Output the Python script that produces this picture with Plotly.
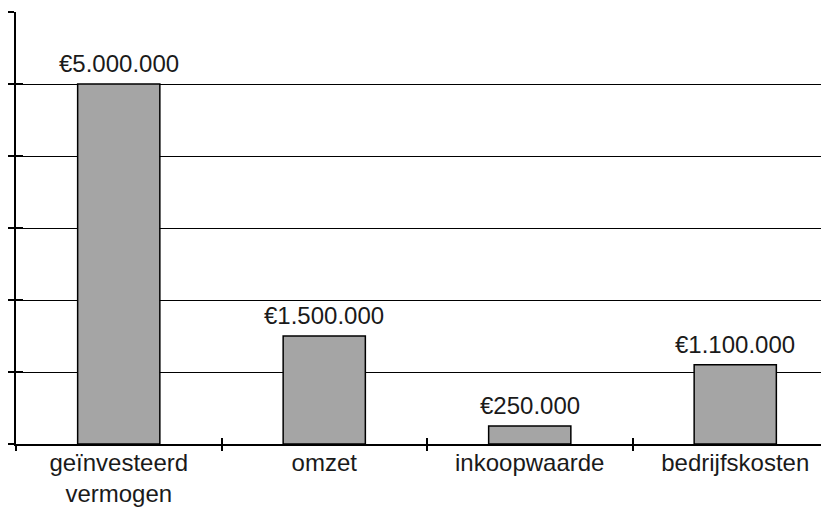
import plotly.graph_objects as go

categories = ["geïnvesteerd<br>vermogen", "omzet", "inkoopwaarde", "bedrijfskosten"]
values = [5000000, 1500000, 250000, 1100000]
y_ticks = [0, 1000000, 2000000, 3000000, 4000000, 5000000, 6000000]

labels = ["€" + f"{v:,}".replace(",", ".") for v in values]
xpos = list(range(len(categories)))
bounds = [i - 0.5 for i in range(len(categories))]

FONT = "Liberation Sans, Arial, sans-serif"
TXT = "#1a1a1a"
XR = [-0.5, -0.5 + 813 / 205.5]
YR = [0, 6000000]

fig = go.Figure()
fig.add_trace(go.Bar(
    x=xpos, y=values, width=0.4,
    marker=dict(color="#a5a5a5", line=dict(color="black", width=1.5)),
    showlegend=False, hoverinfo="skip",
))
# invisible helper traces so the tick-only overlay axes are drawn
fig.add_trace(go.Scatter(x=bounds, y=[0] * len(bounds), xaxis="x2", yaxis="y2",
                         mode="markers", marker=dict(opacity=0),
                         showlegend=False, hoverinfo="skip"))
fig.add_trace(go.Scatter(x=bounds, y=[0] * len(bounds), xaxis="x3", yaxis="y2",
                         mode="markers", marker=dict(opacity=0),
                         showlegend=False, hoverinfo="skip"))

for xv, yv, lab in zip(xpos, values, labels):
    fig.add_annotation(x=xv, y=yv, text=lab, showarrow=False,
                       xanchor="center", yanchor="bottom", yshift=5,
                       font=dict(family=FONT, size=24, color=TXT))

fig.update_layout(
    width=821, height=499,
    margin=dict(l=8, r=0, t=4, b=59),
    plot_bgcolor="white", paper_bgcolor="white",
    font=dict(family=FONT, size=24, color=TXT),
    xaxis=dict(range=XR, tickvals=xpos, ticktext=categories, ticks="",
               ticklabelstandoff=-4,
               showline=True, linecolor="black", linewidth=1.5,
               showgrid=False, zeroline=False, fixedrange=True,
               tickfont=dict(family=FONT, size=24, color=TXT)),
    xaxis2=dict(range=XR, overlaying="x", anchor="y", side="bottom",
                tickvals=bounds, ticks="outside", ticklen=6, tickwidth=1.5,
                tickcolor="black", showticklabels=False, showgrid=False,
                zeroline=False, showline=False, fixedrange=True),
    xaxis3=dict(range=XR, overlaying="x", anchor="y", side="bottom",
                tickvals=bounds, ticks="inside", ticklen=6, tickwidth=1.5,
                tickcolor="black", showticklabels=False, showgrid=False,
                zeroline=False, showline=False, fixedrange=True),
    yaxis=dict(range=YR, tickvals=y_ticks, showticklabels=False,
               ticks="outside", ticklen=6, tickwidth=1.5, tickcolor="black",
               showgrid=True, gridcolor="black", gridwidth=1,
               showline=True, linecolor="black", linewidth=1.5,
               zeroline=False, fixedrange=True),
    yaxis2=dict(range=YR, overlaying="y", anchor="x", side="left",
                tickvals=y_ticks, showticklabels=False, ticks="inside",
                ticklen=7, tickwidth=1.5, tickcolor="black",
                showgrid=False, zeroline=False, showline=False, fixedrange=True),
)

fig.write_html("out.html")
